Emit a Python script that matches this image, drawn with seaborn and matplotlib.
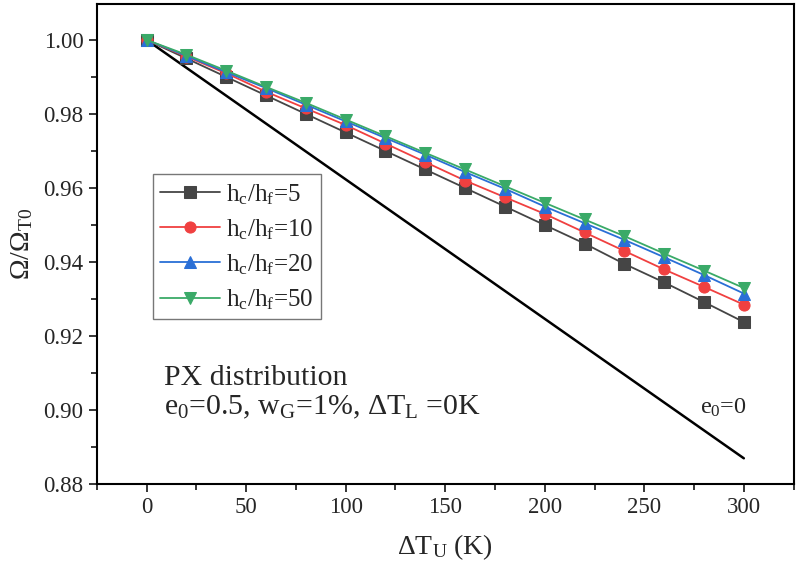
import numpy as np
import pandas as pd
import matplotlib
matplotlib.use("Agg")
import matplotlib.pyplot as plt
import seaborn as sns
from matplotlib.ticker import MultipleLocator

# data
dT = [0, 20, 40, 60, 80, 100, 120, 140, 160, 180, 200, 220, 240, 260, 280, 300]
r5 = [1.0, 0.995, 0.990, 0.985, 0.980, 0.975, 0.970, 0.965, 0.960, 0.955, 0.950, 0.945, 0.9395, 0.9345, 0.9292, 0.9238]
r10 = [1.0, 0.9955, 0.991, 0.986, 0.9815, 0.977, 0.972, 0.967, 0.962, 0.9575, 0.953, 0.948, 0.943, 0.938, 0.9333, 0.9285]
r20 = [1.0, 0.9957, 0.9913, 0.987, 0.9825, 0.978, 0.9735, 0.969, 0.9643, 0.9598, 0.955, 0.9505, 0.946, 0.9413, 0.9365, 0.9315]
r50 = [1.0, 0.996, 0.9917, 0.9873, 0.983, 0.9785, 0.974, 0.9695, 0.965, 0.9605, 0.956, 0.9515, 0.947, 0.9423, 0.9377, 0.933]
e0_x = [0, 300]
e0_y = [1.0, 0.887]

labels = ["$\\mathregular{h_c/h_f}$=5", "$\\mathregular{h_c/h_f}$=10",
          "$\\mathregular{h_c/h_f}$=20", "$\\mathregular{h_c/h_f}$=50"]
colors = ["#454545", "#f04040", "#2a6fd6", "#3aaa68"]
markers = ["s", "o", "^", "v"]

sns.set_style("ticks")
plt.rcParams['font.family'] = ['Liberation Serif', 'DejaVu Serif']
plt.rcParams['mathtext.fontset'] = 'custom'
plt.rcParams['mathtext.rm'] = 'Liberation Serif'
plt.rcParams['mathtext.it'] = 'Liberation Serif'

fig = plt.figure(figsize=(8, 5.69), dpi=100)
ax = fig.add_axes([0.121, 0.149, 0.871, 0.844])

sns.lineplot(x=e0_x, y=e0_y, ax=ax, color="black", linewidth=1.8)

for ys, lab, c, m in zip([r5, r10, r20, r50], labels, colors, markers):
    sns.lineplot(x=dT, y=ys, ax=ax, color=c, marker=m, markersize=8,
                 markeredgecolor=c, linewidth=1.3, label=lab)

ax.set_xlim(-25, 325)
ax.set_ylim(0.88, 1.0097)
ax.xaxis.set_major_locator(MultipleLocator(50))
ax.xaxis.set_minor_locator(MultipleLocator(25))
ax.yaxis.set_major_locator(MultipleLocator(0.02))
ax.yaxis.set_minor_locator(MultipleLocator(0.01))
ax.yaxis.set_major_formatter(matplotlib.ticker.FormatStrFormatter('%.2f'))
ax.tick_params(which='major', length=6, width=1.3, labelsize=16.5, direction='out')
ax.tick_params(which='minor', length=4, width=1.3, direction='out')
for s in ax.spines.values():
    s.set_linewidth(1.5)
    s.set_color("black")

ax.set_xlabel("$\\mathregular{\\Delta T_U}$ (K)", fontsize=20, labelpad=10)
ax.set_ylabel("$\\mathregular{\\Omega/\\Omega_{T0}}$", fontsize=20, labelpad=6)

ax.text(9, 0.9086, "PX distribution", fontsize=21.5, va='center')
ax.text(9, 0.9008, "$\\mathregular{e_0}$=0.5, $\\mathregular{w_G}$=1%, $\\mathregular{\\Delta T_L}$ =0K",
        fontsize=21.5, va='center')
ax.text(278, 0.9005, "$\\mathregular{e_0}$=0", fontsize=17.5, va='center')

leg = ax.legend(loc='upper left', bbox_to_anchor=(0.08, 0.645), borderaxespad=0,
                fontsize=18, fancybox=False, frameon=True, handlelength=2.4,
                labelspacing=0.42, borderpad=0.3, handletextpad=0.25)
leg.get_frame().set_edgecolor("#555555")
leg.get_frame().set_linewidth(1.0)

fig.savefig("out.png", dpi=100)
